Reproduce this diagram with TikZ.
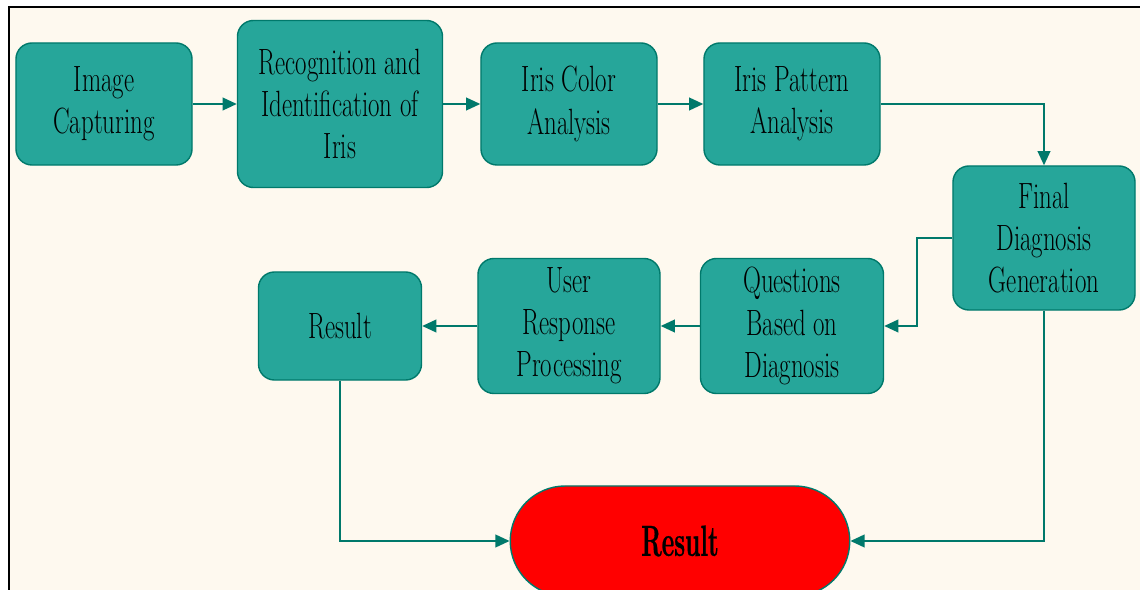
\documentclass[tikz,border=0pt]{standalone}
\usepackage{fontspec}
\setmainfont{Latin Modern Roman}[FakeStretch=0.68]
\newfontfamily\resultfont{Latin Modern Roman}[FakeStretch=0.56, BoldFeatures={FakeBold=0.6}]
\usetikzlibrary{arrows.meta,shapes.misc}
\definecolor{cream}{RGB}{254,249,239}
\definecolor{tealfill}{RGB}{38,166,154}
\definecolor{tealline}{RGB}{0,121,107}
\definecolor{resultred}{RGB}{255,0,0}

\tikzset{
	stage/.style={draw=tealline, fill=tealfill, line width=1pt, rounded corners=0.4cm,
		align=center, inner sep=0pt, font=\fontsize{26}{30}\selectfont},
	link/.style={draw=tealline, line width=1.2pt, -{Triangle[length=10pt,width=9pt]}},
}

\begin{document}
\begin{tikzpicture}[x=0.025cm, y=-0.025cm]
	\useasboundingbox (0,0) rectangle (1140,590);
	\fill[color=cream] (9,7) rectangle (1160,610);
	\draw[line width=2pt] (1160,7) -- (9,7) -- (9,610);

	% top row
	\node[stage, minimum width=4.4cm, minimum height=3.05cm] (img) at (104,104) {Image\\Capturing};
	\node[stage, minimum width=5.125cm, minimum height=4.175cm] (recog) at (340,104) {Recognition and\\Identification of\\Iris};
	\node[stage, minimum width=4.4cm, minimum height=3.05cm] (color) at (569,104) {Iris Color\\Analysis};
	\node[stage, minimum width=4.4cm, minimum height=3.05cm] (pattern) at (792,104) {Iris Pattern\\Analysis};
	\node[stage, minimum width=4.55cm, minimum height=3.6cm] (final) at (1044,238) {Final\\Diagnosis\\Generation};

	% second row
	\node[stage, minimum width=4.575cm, minimum height=3.375cm] (questions) at (792,326) {Questions\\Based on\\Diagnosis};
	\node[stage, minimum width=4.55cm, minimum height=3.375cm] (user) at (569,326) {User\\Response\\Processing};
	\node[stage, minimum width=4.075cm, minimum height=2.7cm] (res) at (340,326) {Result};

	% end
	\node[rounded rectangle, draw=tealline, fill=resultred, line width=1pt, minimum width=8.72cm,
		minimum height=2.75cm, font=\resultfont\bfseries\fontsize{31}{36}\selectfont] (outcome) at (680,541) {Result};

	\draw[link] (img) -- (recog);
	\draw[link] (recog) -- (color);
	\draw[link] (color) -- (pattern);
	\draw[link] (pattern.east) -| (final.north);
	\draw[link] (final.west) -- ++(-35,0) |- (questions.east);
	\draw[link] (questions) -- (user);
	\draw[link] (user) -- (res);
	\draw[link] (res.south) |- (outcome.west);
	\draw[link] (final.south) |- (outcome.east);
\end{tikzpicture}
\end{document}
